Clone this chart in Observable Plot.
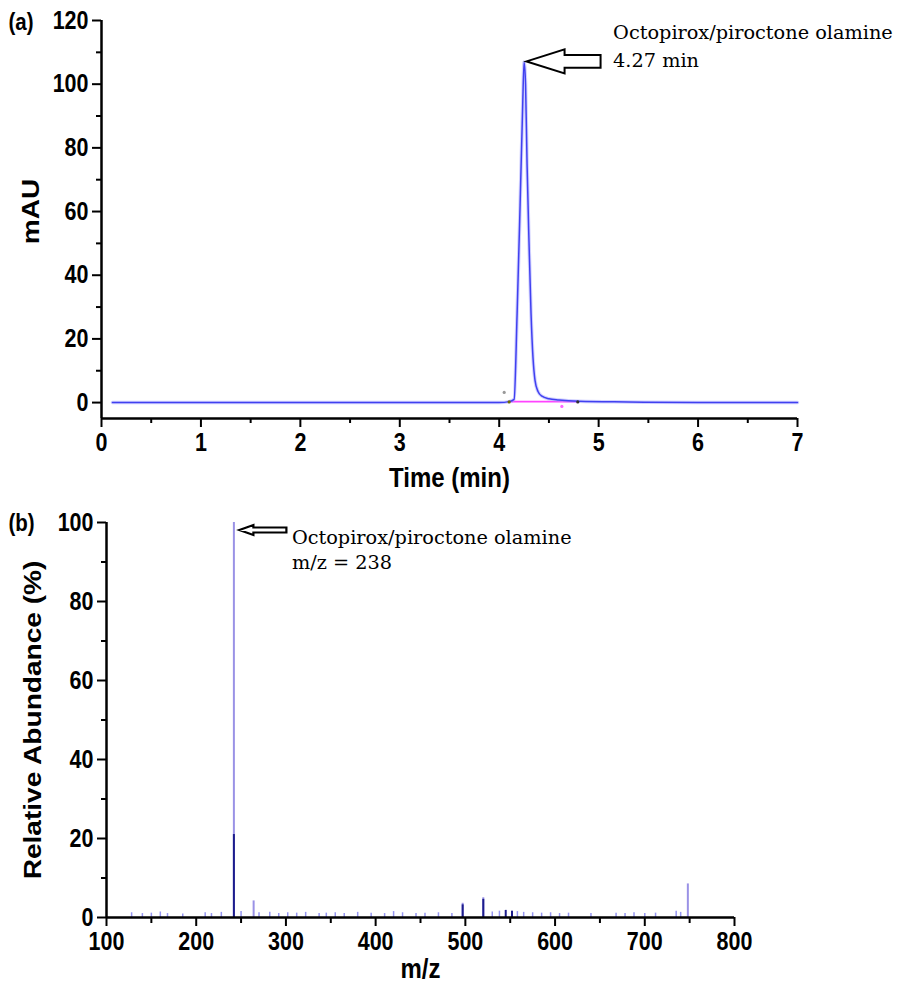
<!DOCTYPE html>
<html><head><meta charset="utf-8">
<script src="https://cdn.jsdelivr.net/npm/d3@7"></script>
<script src="https://cdn.jsdelivr.net/npm/@observablehq/plot@0.6"></script>
<style>
body{margin:0;background:#fff;}
#chart{width:897px;height:986px;position:relative;}
#chart svg{display:block;overflow:visible;}
</style></head><body><div id="chart"></div>
<script>
// ---------- Panel (a): HPLC chromatogram ----------
const timeMin = [0.11, 1.0, 2.0, 3.0, 4.0, 4.10, 4.15, 4.18, 4.21, 4.235, 4.25, 4.265, 4.28, 4.30, 4.32, 4.34, 4.36, 4.39, 4.43, 4.50, 4.60, 4.80, 5.30, 6.0, 7.0];
const mAU     = [0,    0,   0,   0,   0,   0.3,  1.0,  28,   62,   92,    107,  100,   75,   50,   28,   14,   7,    3.5,  2.0,  1.2,  0.8,  0.4,  0.2,  0,   0];
const integTime = [4.09, 4.79];
const integMAU  = [0.3, 0.3];
const markerTime = [4.10, 4.79, 4.05, 4.63];
const markerMAU  = [0.2, 0.2, 3.2, -1.2];
const markerColor = ["#6b6b00", "#303030", "#999999", "#ff66ff"];
const timeTicks = [0, 1, 2, 3, 4, 5, 6, 7];
const timeMinorTicks = [0.5, 1.5, 2.5, 3.5, 4.5, 5.5, 6.5];
const mauTicks = [0, 20, 40, 60, 80, 100, 120];
const mauMinorTicks = [10, 30, 50, 70, 90, 110];
const peakA = {time: 4.25, mAU: 107};
const annotA = ["Octopirox/piroctone olamine", "4.27 min"];

// ---------- Panel (b): mass spectrum ----------
const mzMain    = [242, 264, 497, 520, 748];
const abundMain = [100, 4.2, 3.6, 5.0, 8.5];
const mzDark    = [242, 497, 520, 545, 552];
const abundDark = [21, 3.2, 4.6, 1.8, 1.6];
const mzNoise    = [128, 140, 150, 160, 168, 185, 210, 217, 228, 250, 270, 282, 292, 302, 312, 322, 337, 345, 355, 365, 380, 395, 410, 420, 430, 445, 455, 470, 485, 530, 538, 558, 565, 575, 585, 595, 605, 615, 640, 668, 678, 688, 700, 712, 735, 740];
const abundNoise = [1.2, 1.0, 1.1, 1.4, 1.0, 0.9, 1.2, 1.0, 1.3, 1.5, 1.2, 1.3, 1.0, 1.2, 1.1, 1.3, 1.0, 1.1, 1.2, 1.0, 1.3, 1.1, 1.0, 1.5, 1.2, 1.0, 1.1, 1.2, 1.0, 1.4, 1.6, 1.5, 1.3, 1.2, 1.1, 1.2, 1.0, 1.1, 1.0, 1.1, 1.0, 1.2, 1.0, 1.1, 1.6, 1.3];
const mzTicks = [100, 200, 300, 400, 500, 600, 700, 800];
const mzMinorTicks = [150, 250, 350, 450, 550, 650, 750];
const abundTicks = [0, 20, 40, 60, 80, 100];
const abundMinorTicks = [10, 30, 50, 70, 90];
const peakB = {mz: 242, abund: 100};
const annotB = ["Octopirox/piroctone olamine", "m/z = 238"];

// ---------- helpers ----------
const sans = "'Liberation Sans', Arial, sans-serif";
const serif = "'DejaVu Serif', serif";
const tickFont = 21.5, titleFont = 24, panelFont = 20.5;
function hollowArrow(px, py, o) {
  return (index, scales) => {
    const tx = scales.x(px) + o.dx, ty = scales.y(py) + o.dy;
    const pts = [[0,0],[o.head,-o.hh],[o.head,-o.sh],[o.len,-o.sh],[o.len,o.sh],[o.head,o.sh],[o.head,o.hh]];
    const g = d3.create("svg:g");
    g.append("path")
      .attr("d", "M" + pts.map(p => (tx + p[0]) + "," + (ty + p[1])).join("L") + "Z")
      .attr("fill", "white").attr("stroke", "black")
      .attr("stroke-width", o.sw).attr("stroke-linejoin", "miter");
    return g.node();
  };
}
// the source figure's sans-serif lettering is stretched vertically
function stretchText(svg, k) {
  svg.querySelectorAll("text").forEach(t => {
    const fam = t.closest("[font-family]");
    if (fam && /Serif/.test(fam.getAttribute("font-family"))) return;
    let tr = t.getAttribute("transform");
    if (!tr) {
      const x = +t.getAttribute("x") || 0, y = +t.getAttribute("y") || 0;
      t.removeAttribute("x"); t.removeAttribute("y");
      tr = `translate(${x},${y})`;
    }
    t.setAttribute("transform", tr + (/rotate/.test(tr) ? ` scale(${k},1)` : ` scale(1,${k})`));
  });
  return svg;
}
const idx = a => a.map((_, i) => i);

// ---------- Panel (a) ----------
const chromData = idx(timeMin).map(i => ({t: timeMin[i], v: mAU[i]}));
const plotA = Plot.plot({
  width: 897, height: 495,
  marginLeft: 101, marginRight: 100, marginTop: 20, marginBottom: 77,
  x: {domain: [0, 7]},
  y: {domain: [-5, 120]},
  style: {fontFamily: sans, color: "black", background: "white", overflow: "visible"},
  marks: [
    Plot.axisY(mauTicks, {tickSize: 9, tickPadding: 4, fontSize: tickFont, fontWeight: "bold", label: null, strokeWidth: 2}),
    Plot.axisY(mauMinorTicks, {tickSize: 5, tickFormat: () => "", label: null, strokeWidth: 2}),
    Plot.axisX(timeTicks, {tickSize: 9, tickPadding: 6, fontSize: tickFont, fontWeight: "bold", label: null, strokeWidth: 2}),
    Plot.axisX(timeMinorTicks, {tickSize: 5, tickFormat: () => "", label: null, strokeWidth: 2}),
    Plot.ruleX([0], {y1: -5, y2: 120, strokeWidth: 2.5}),
    Plot.ruleY([-5], {x1: 0, x2: 7, strokeWidth: 2.5}),
    Plot.line(integTime.map((t, i) => ({t, v: integMAU[i]})), {x: "t", y: "v", stroke: "#ff44ff", strokeWidth: 1.6}),
    Plot.line(chromData, {x: "t", y: "v", stroke: "#a4a4ff", strokeWidth: 3.5, strokeOpacity: 0.5, curve: "monotone-x"}),
    Plot.line(chromData, {x: "t", y: "v", stroke: "#4040f0", strokeWidth: 1.5, curve: "monotone-x"}),
    Plot.dot(idx(markerTime), {x: i => markerTime[i], y: i => markerMAU[i], fill: i => markerColor[i], r: 1.6}),
    hollowArrow(peakA.time, peakA.mAU, {dx: 3, dy: 0, head: 38, hh: 12, sh: 6.3, len: 74, sw: 2}),
    Plot.text([annotA[0]], {x: () => peakA.time, y: () => peakA.mAU, text: d => d, dx: 89, dy: -23, textAnchor: "start", lineAnchor: "bottom", fontFamily: serif, fontSize: 19.3, fill: "black"}),
    Plot.text([annotA[1]], {x: () => peakA.time, y: () => peakA.mAU, text: d => d, dx: 89, dy: 5, textAnchor: "start", lineAnchor: "bottom", fontFamily: serif, fontSize: 19.3, fill: "black"}),
    Plot.text(["mAU"], {frameAnchor: "left", text: d => d, rotate: -90, textAnchor: "middle", dx: -70, dy: -8, fontSize: titleFont, fontWeight: "bold"}),
    Plot.text(["Time (min)"], {frameAnchor: "bottom", text: d => d, textAnchor: "middle", lineAnchor: "middle", dy: 60, fontSize: titleFont, fontWeight: "bold"}),
    Plot.text(["(a)"], {frameAnchor: "top-left", text: d => d, dx: -93, dy: 2, textAnchor: "start", lineAnchor: "middle", fontSize: panelFont, fontWeight: "bold"})
  ]
});

// ---------- Panel (b) ----------
const plotB = Plot.plot({
  width: 897, height: 491,
  marginLeft: 106, marginRight: 163, marginTop: 27, marginBottom: 69,
  x: {domain: [100, 800]},
  y: {domain: [0, 100]},
  style: {fontFamily: sans, color: "black", background: "white", overflow: "visible"},
  marks: [
    Plot.ruleX(idx(mzNoise), {x: i => mzNoise[i], y1: 0, y2: i => abundNoise[i], stroke: "#7a7aee", strokeWidth: 1.5, strokeOpacity: 0.8}),
    Plot.ruleX(idx(mzMain), {x: i => mzMain[i], y1: 0, y2: i => abundMain[i], stroke: "#9a92e6", strokeWidth: 2}),
    Plot.ruleX(idx(mzDark), {x: i => mzDark[i], y1: 0, y2: i => abundDark[i], stroke: "#1c1c8c", strokeWidth: 2}),
    Plot.axisY(abundTicks, {tickSize: 9, tickPadding: 4, fontSize: tickFont, fontWeight: "bold", label: null, strokeWidth: 2}),
    Plot.axisY(abundMinorTicks, {tickSize: 5, tickFormat: () => "", label: null, strokeWidth: 2}),
    Plot.axisX(mzTicks, {tickSize: 9, tickPadding: 6, fontSize: tickFont, fontWeight: "bold", label: null, strokeWidth: 2}),
    Plot.axisX(mzMinorTicks, {tickSize: 6, tickFormat: () => "", label: null, strokeWidth: 2}),
    Plot.ruleX([100], {y1: 0, y2: 100, strokeWidth: 2.5}),
    Plot.ruleY([0], {x1: 100, x2: 800, strokeWidth: 2.5}),
    hollowArrow(peakB.mz, peakB.abund, {dx: 6, dy: 8, head: 14, hh: 5, sh: 2.5, len: 47, sw: 2.2}),
    Plot.text([annotB[0]], {x: () => peakB.mz, y: () => peakB.abund, text: d => d, dx: 58, dy: 21, textAnchor: "start", lineAnchor: "bottom", fontFamily: serif, fontSize: 19.3, fill: "black"}),
    Plot.text([annotB[1]], {x: () => peakB.mz, y: () => peakB.abund, text: d => d, dx: 58, dy: 46, textAnchor: "start", lineAnchor: "bottom", fontFamily: serif, fontSize: 19.3, fill: "black"}),
    Plot.text(["Relative Abundance (%)"], {frameAnchor: "left", text: d => d, rotate: -90, textAnchor: "middle", dx: -73, fontSize: titleFont, fontWeight: "bold"}),
    Plot.text(["m/z"], {frameAnchor: "bottom", text: d => d, textAnchor: "middle", lineAnchor: "middle", dy: 52, fontSize: titleFont, fontWeight: "bold"}),
    Plot.text(["(b)"], {frameAnchor: "top-left", text: d => d, dx: -98, dy: 1, textAnchor: "start", lineAnchor: "middle", fontSize: panelFont, fontWeight: "bold"})
  ]
});

const chart = document.getElementById("chart");
chart.appendChild(stretchText(plotA, 1.17));
chart.appendChild(stretchText(plotB, 1.17));
</script>
</body></html>
